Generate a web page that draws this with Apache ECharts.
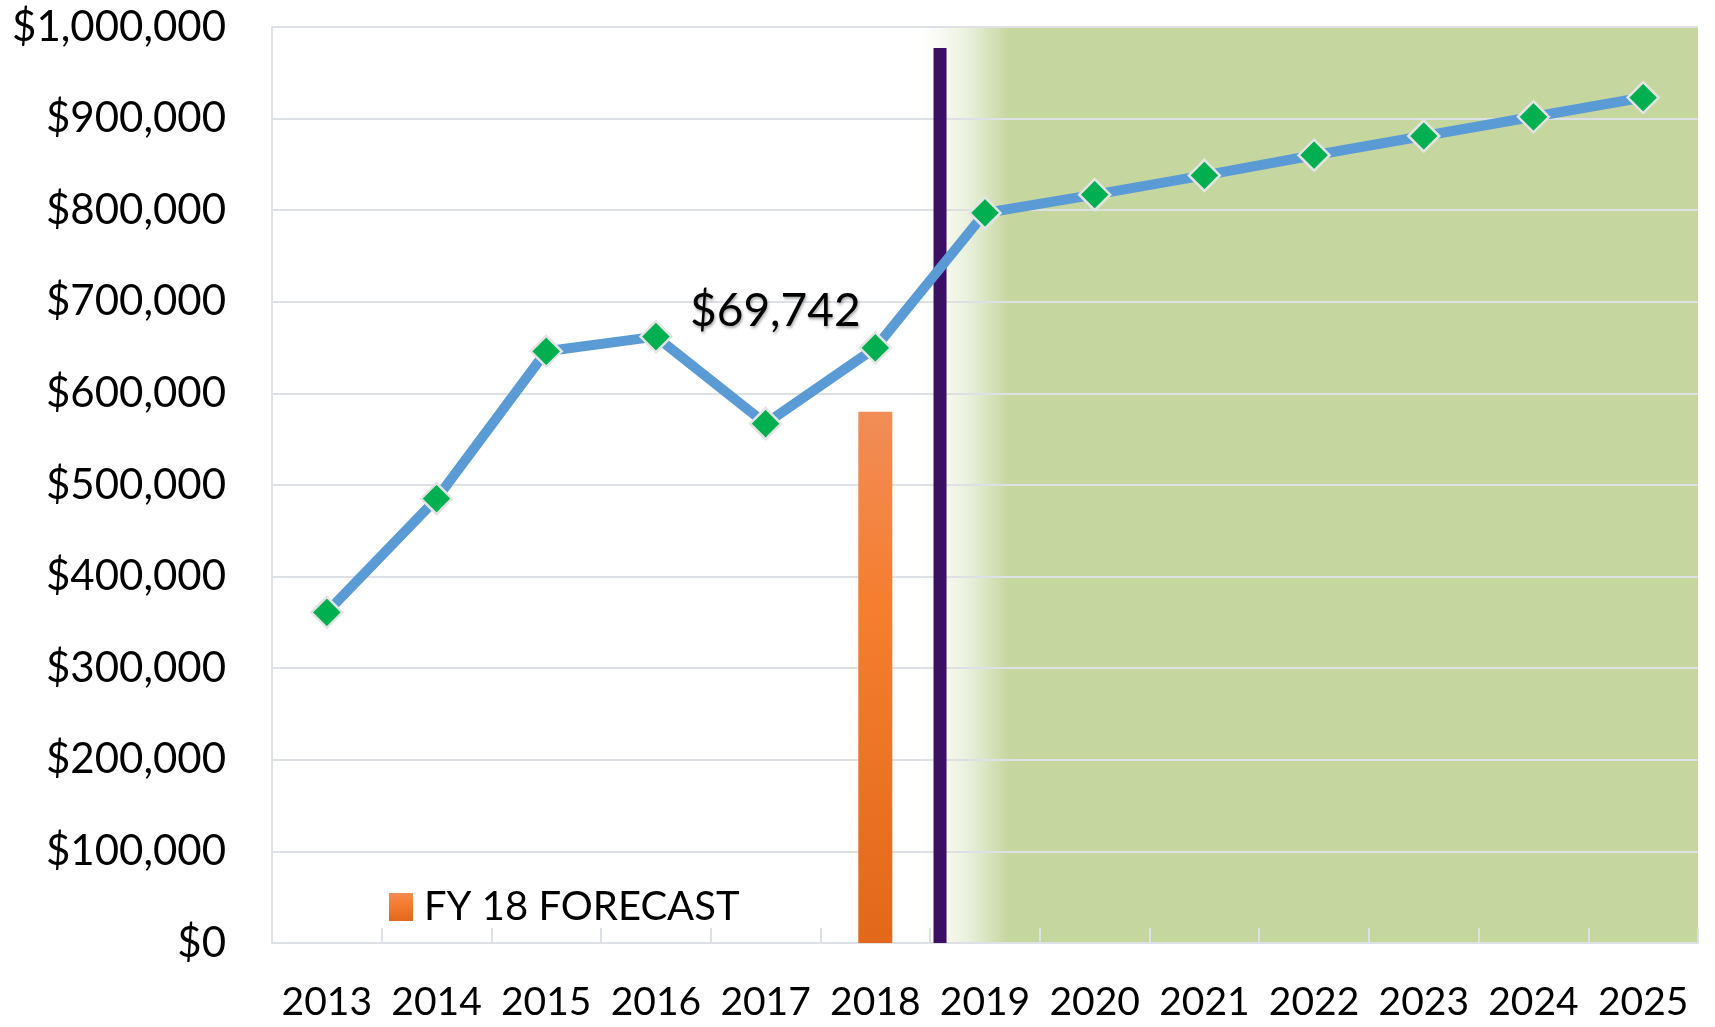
<!DOCTYPE html>
<html>
<head>
<meta charset="utf-8">
<script src="https://cdn.jsdelivr.net/npm/echarts@6/dist/echarts.min.js"></script>
<style>
  html, body { margin: 0; padding: 0; background: #fff; }
  #chart { width: 1715px; height: 1027px; }
</style>
</head>
<body>
<div id="chart"></div>
<script>
// data
var years = ['2013', '2014', '2015', '2016', '2017', '2018', '2019', '2020', '2021', '2022', '2023', '2024', '2025'];
var revenue = [361000, 485000, 646000, 662000, 567000, 649742, 797000, 817000, 838000, 860000, 881000, 902000, 923000];
var forecastYear = '2018';
var forecastValue = 580000;
var yTicks = [0, 100000, 200000, 300000, 400000, 500000, 600000, 700000, 800000, 900000, 1000000];

// bar only on the forecast year
var forecastData = years.map(function (y) { return y === forecastYear ? forecastValue : null; });
var gap = revenue[years.indexOf(forecastYear)] - forecastValue;

function money(v) {
    return '$' + v.toLocaleString('en-US');
}

var myChart = echarts.init(document.getElementById('chart'));

var gridGrey = '#DDE1E6';
var font = 'Lato';

var option = {
    animation: false,
    grid: {
        left: 272, right: 17, top: 27, bottom: 84,
        containLabel: false,
        outerBoundsMode: 'none'
    },
    legend: {
        left: 384, top: 882,
        itemWidth: 24, itemHeight: 28,
        icon: 'rect',
        data: ['FY 18 FORECAST'],
        textStyle: { fontFamily: font, fontSize: 40, color: '#000', padding: [0, 0, 0, 6] }
    },
    xAxis: [
        {
            type: 'category',
            data: years,
            z: 1.5,
            axisLine: { lineStyle: { color: gridGrey, width: 2 } },
            axisTick: { show: true, interval: 0, inside: true, length: 15, lineStyle: { color: gridGrey, width: 2 } },
            axisLabel: { interval: 0, fontFamily: font, fontSize: 39, color: '#000', margin: 40 }
        },
        {
            // hidden helper axis, in category units, for the divider and the shaded zone
            type: 'value', min: 0, max: years.length, show: false
        }
    ],
    yAxis: {
        type: 'value',
        min: yTicks[0],
        max: yTicks[yTicks.length - 1],
        interval: 100000,
        z: 1.5,
        axisLine: { show: true, lineStyle: { color: gridGrey, width: 2 } },
        axisTick: { show: false },
        splitLine: { lineStyle: { color: gridGrey, width: 2 } },
        axisLabel: {
            fontFamily: font, fontSize: 42, color: '#000', margin: 46,
            formatter: function (v) { return money(v); }
        }
    },
    series: [
        {
            name: 'shade',
            type: 'line',
            xAxisIndex: 1,
            data: [],
            silent: true,
            markArea: {
                silent: true,
                z: 1,
                itemStyle: {
                    color: new echarts.graphic.LinearGradient(0, 0, 1, 0, [
                        { offset: 0, color: 'rgba(197,214,159,0)' },
                        { offset: 0.03, color: 'rgba(197,214,159,0.15)' },
                        { offset: 0.06, color: 'rgba(197,214,159,0.35)' },
                        { offset: 0.09, color: 'rgba(197,214,159,0.7)' },
                        { offset: 0.115, color: 'rgba(197,214,159,1)' },
                        { offset: 1, color: 'rgba(197,214,159,1)' }
                    ])
                },
                data: [[{ xAxis: 5.91, yAxis: 0 }, { xAxis: years.length, yAxis: 1000000 }]]
            }
        },
        {
            name: 'FY 18 FORECAST',
            type: 'bar',
            barWidth: 34,
            data: forecastData,
            itemStyle: {
                color: new echarts.graphic.LinearGradient(0, 0, 0, 1, [
                    { offset: 0, color: '#F18D57' },
                    { offset: 0.35, color: '#F57E31' },
                    { offset: 1, color: '#E2691B' }
                ])
            },
            label: {
                show: true,
                position: 'top',
                offset: [-100, -73],
                fontFamily: font,
                fontSize: 46,
                color: '#000',
                textShadowColor: 'rgba(0,0,0,0.35)',
                textShadowBlur: 3,
                textShadowOffsetX: 1,
                textShadowOffsetY: 2,
                formatter: function () { return money(gap); }
            }
        },
        {
            name: 'divider',
            type: 'line',
            xAxisIndex: 1,
            symbol: 'none',
            silent: true,
            lineStyle: { color: '#3B0F63', width: 13, cap: 'butt' },
            data: [[6.09, 0], [6.09, 977000]]
        },
        {
            name: 'revenue',
            type: 'line',
            z: 3,
            data: revenue,
            symbol: 'diamond',
            symbolSize: 31,
            lineStyle: { color: '#5B9BD5', width: 10 },
            itemStyle: { color: '#00B050', borderColor: '#E4E4E4', borderWidth: 2.5 }
        }
    ]
};

myChart.setOption(option);
</script>
</body>
</html>
